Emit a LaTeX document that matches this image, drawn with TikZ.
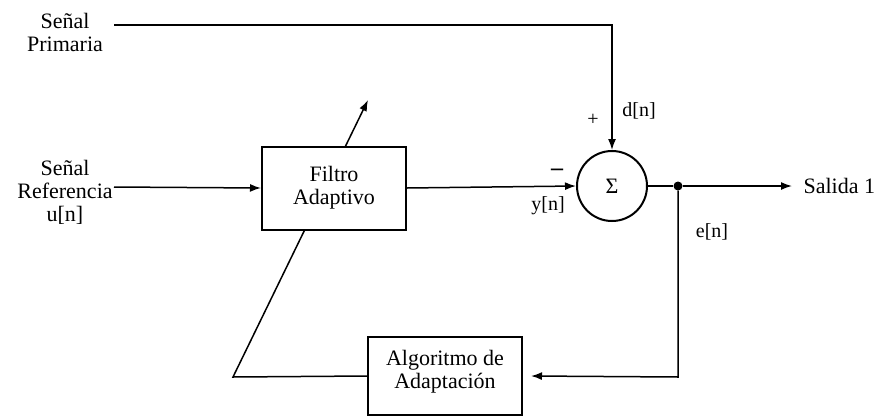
\documentclass[tikz,border=0pt]{standalone}
\usepackage{fontspec}
\setmainfont{Liberation Serif}
\usetikzlibrary{arrows.meta}
\begin{document}
\begin{tikzpicture}[
  x=1pt, y=-1pt,
  every node/.style={font=\rmfamily\fontsize{22}{23}\selectfont},
  box/.style={
    draw,
    fill=white,
    line width=2pt,
    align=center
  },
  lbl/.style={align=center},
  small/.style={font=\rmfamily\fontsize{20}{22}\selectfont},
  arrow/.style={-{Latex[length=11pt,width=8pt]}, line width=1.5pt},
  wire/.style={line width=1.5pt}
]
\useasboundingbox (0,0) rectangle (889,418);
% inputs
\node[lbl] (prim) at (65,32) {Señal\\Primaria};
\node[lbl] (ref) at (65,192) {Señal\\Referencia\\u[n]};
\coordinate (pin) at (114,25);
\coordinate (rin) at (114,187);
% adaptation block and the adjust arrow behind the filter
\node[box, minimum width=154, minimum height=78, text depth=14pt] (alg) at (445,376) {Algoritmo de\\Adaptación};
\coordinate (corner) at (233,377);
\coordinate (tip) at (368,100);
\draw[arrow] (alg.west) -- (corner) -- (tip);
\node[box, minimum width=144, minimum height=83] (filt) at (334,188) {Filtro\\Adaptivo};
% summing node
\node[draw, circle, line width=2pt, minimum size=70] (sum) at (612,186) {Σ};
\node[circle, fill, inner sep=0pt, minimum size=9] (dot) at (678,186) {};
\coordinate (out) at (792,186);
\coordinate (fb) at (678,377);
\node[anchor=west] (sal) at (800,186) {Salida 1};
% labels
\node[small] (plus) at (593,120) {+};
\node[small] (dn) at (639,111) {d[n]};
\node[font=\rmfamily\fontsize{24}{24}\selectfont\bfseries] (minus) at (557,172) {–};
\node[small] (yn) at (548,206) {y[n]};
\node[small] (en) at (712,232) {e[n]};
% connectors
\draw[arrow] (pin) -| (sum.north);
\draw[arrow] (rin) -- (filt.west);
\draw[arrow] (filt.east) -- (sum.west);
\draw[wire] (sum.east) -- (dot);
\draw[arrow] (dot) -- (out);
\draw[arrow] (dot) -- (fb) -- ([xshift=8pt]alg.east);
\end{tikzpicture}
\end{document}
